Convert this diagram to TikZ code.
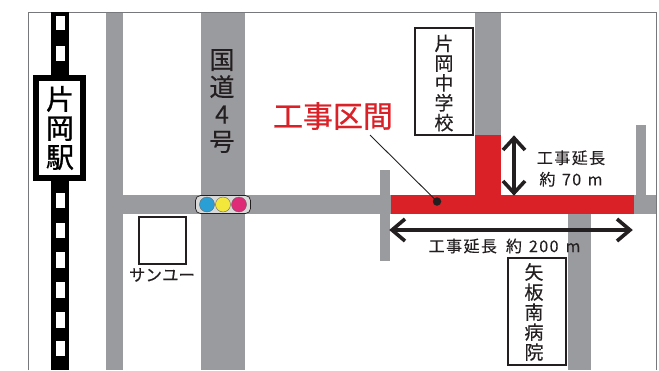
\documentclass[tikz,border=0pt]{standalone}
\usepackage{fontspec}
\setmainfont{Noto Sans CJK JP}
\definecolor{roadgray}{HTML}{9A9B9E}
\definecolor{workred}{HTML}{DA2128}
\definecolor{inkdark}{HTML}{231F20}
\definecolor{sigblue}{HTML}{2A9FD6}
\definecolor{sigyellow}{HTML}{F2E73A}
\definecolor{sigpink}{HTML}{DE2A77}
\definecolor{framegray}{HTML}{77787B}
\tikzset{
  road/.style={fill=roadgray,draw=none},
  redroad/.style={fill=workred,draw=none},
  sleeper/.style={fill=white,draw=none},
  labelbox/.style={draw=inkdark,line width=2pt,fill=white},
  txt/.style={text=inkdark,inner sep=0pt,align=center},
  dimarrow/.style={draw=inkdark,line width=3.6pt},
  sigdot/.style={circle,minimum size=15pt,inner sep=0pt,draw=black!60,line width=0.4pt},
}
\newcommand{\fs}[2]{\fontsize{#1}{#2}\selectfont\lineskiplimit=-100pt\relax}
\begin{document}
\begin{tikzpicture}[x=1pt,y=-1pt]
\useasboundingbox (0,0) rectangle (659,370);
\clip (0,0) rectangle (659,370);
% roads
\fill[road] (106,12) rectangle (123,370);
\fill[road] (201,12) rectangle (245,370);
\fill[road] (106,195) rectangle (657,214);
\fill[road] (475,12) rectangle (501,135);
\fill[road] (380,170) rectangle (390,261);
\fill[road] (636,125) rectangle (646,195);
\fill[road] (568,214) rectangle (591,370);
% red section
\fill[redroad] (475,135) rectangle (501,195);
\fill[redroad] (391,195) rectangle (634,214);
% frame
\draw[framegray,line width=0.7pt] (28,370) -- (28,12) -- (656.5,12) -- (656.5,370);
% railway
\fill[black] (51,12) rectangle (69,370);
\foreach \a/\b in {16/30,46/61,193/208,223/238,252/268,282/298,312/328,341/356}
  \fill[sleeper] (56,\a) rectangle (65,\b);
% station
\node[draw=black,line width=6pt,fill=white,minimum width=47pt,minimum height=100pt,inner sep=0pt] (station) at (59.5,128) {};
\node[txt,text=black,font=\fs{28}{29}\addfontfeature{FakeBold=1}] (stationlabel) at (60,128) {片\\岡\\駅};
% national road
\node[txt,font=\fs{25}{27.3}\addfontfeature{FakeBold=0.3}] (route) at (222,101) {国\\道\\4\\号};
% school
\node[labelbox,minimum width=58pt,minimum height=107pt] (school) at (443.5,81) {};
\node[txt,font=\fs{19}{19.8}\addfontfeature{FakeBold=0.3}] (schoollabel) at (444,83) {片\\岡\\中\\学\\校};
% hospital
\node[labelbox,minimum width=58pt,minimum height=107pt] (hospital) at (536.5,311) {};
\node[txt,font=\fs{19}{20}\addfontfeature{FakeBold=0.3}] (hospitallabel) at (534,312) {矢\\板\\南\\病\\院};
% sanyu
\node[labelbox,minimum width=47pt,minimum height=47pt] (sanyu) at (162.5,240) {};
\node[txt,font=\fs{16.5}{18}\addfontfeature{FakeBold=0.3}] (sanyulabel) at (162,275) {サンユー};
% signal
\node[draw=inkdark,fill=black!15,line width=0.7pt,rounded corners=5pt,minimum width=55pt,minimum height=18pt,inner sep=0pt] (signal) at (223,204.5) {};
\node[sigdot,fill=sigblue] (s1) at (207,204.5) {};
\node[sigdot,fill=sigyellow] (s2) at (223,204.5) {};
\node[sigdot,fill=sigpink] (s3) at (239,204.5) {};
% callout
\node[txt,text=workred,font=\fs{30}{32}\addfontfeature{FakeBold=0.6}] (kouji) at (333,116) {工事区間};
\coordinate (calloutstart) at (370,135);
\node[circle,fill=inkdark,minimum size=8.5pt,inner sep=0pt] (calloutdot) at (437,201.5) {};
\draw[inkdark,line width=0.9pt] (calloutstart) -- (calloutdot.center);
% vertical dimension
\coordinate (vt) at (514,138);
\coordinate (vb) at (514,193);
\draw[dimarrow] (vt) -- (vb);
\draw[dimarrow,line join=miter] (503,150) -- (vt) -- (525,150);
\draw[dimarrow,line join=miter] (503,181) -- (vb) -- (525,181);
\node[txt,font=\fs{16}{21.5}\addfontfeature{LetterSpace=9,FakeBold=0.2}] (dimv) at (571,168.5) {工事延長\\約\hspace{1.5pt} 70\hspace{1.5pt} m};
% horizontal dimension
\coordinate (hl) at (392,230);
\coordinate (hr) at (630,230);
\draw[dimarrow] (hl) -- (hr);
\draw[dimarrow,line join=miter] (405,219) -- (hl) -- (405,241);
\draw[dimarrow,line join=miter] (617,219) -- (hr) -- (617,241);
\node[txt,font=\fs{16}{18}\addfontfeature{LetterSpace=9,FakeBold=0.2}] (dimh) at (504.5,246) {工事延長\hspace{4pt} 約\hspace{2pt} 200\hspace{2pt} m};
\end{tikzpicture}
\end{document}
